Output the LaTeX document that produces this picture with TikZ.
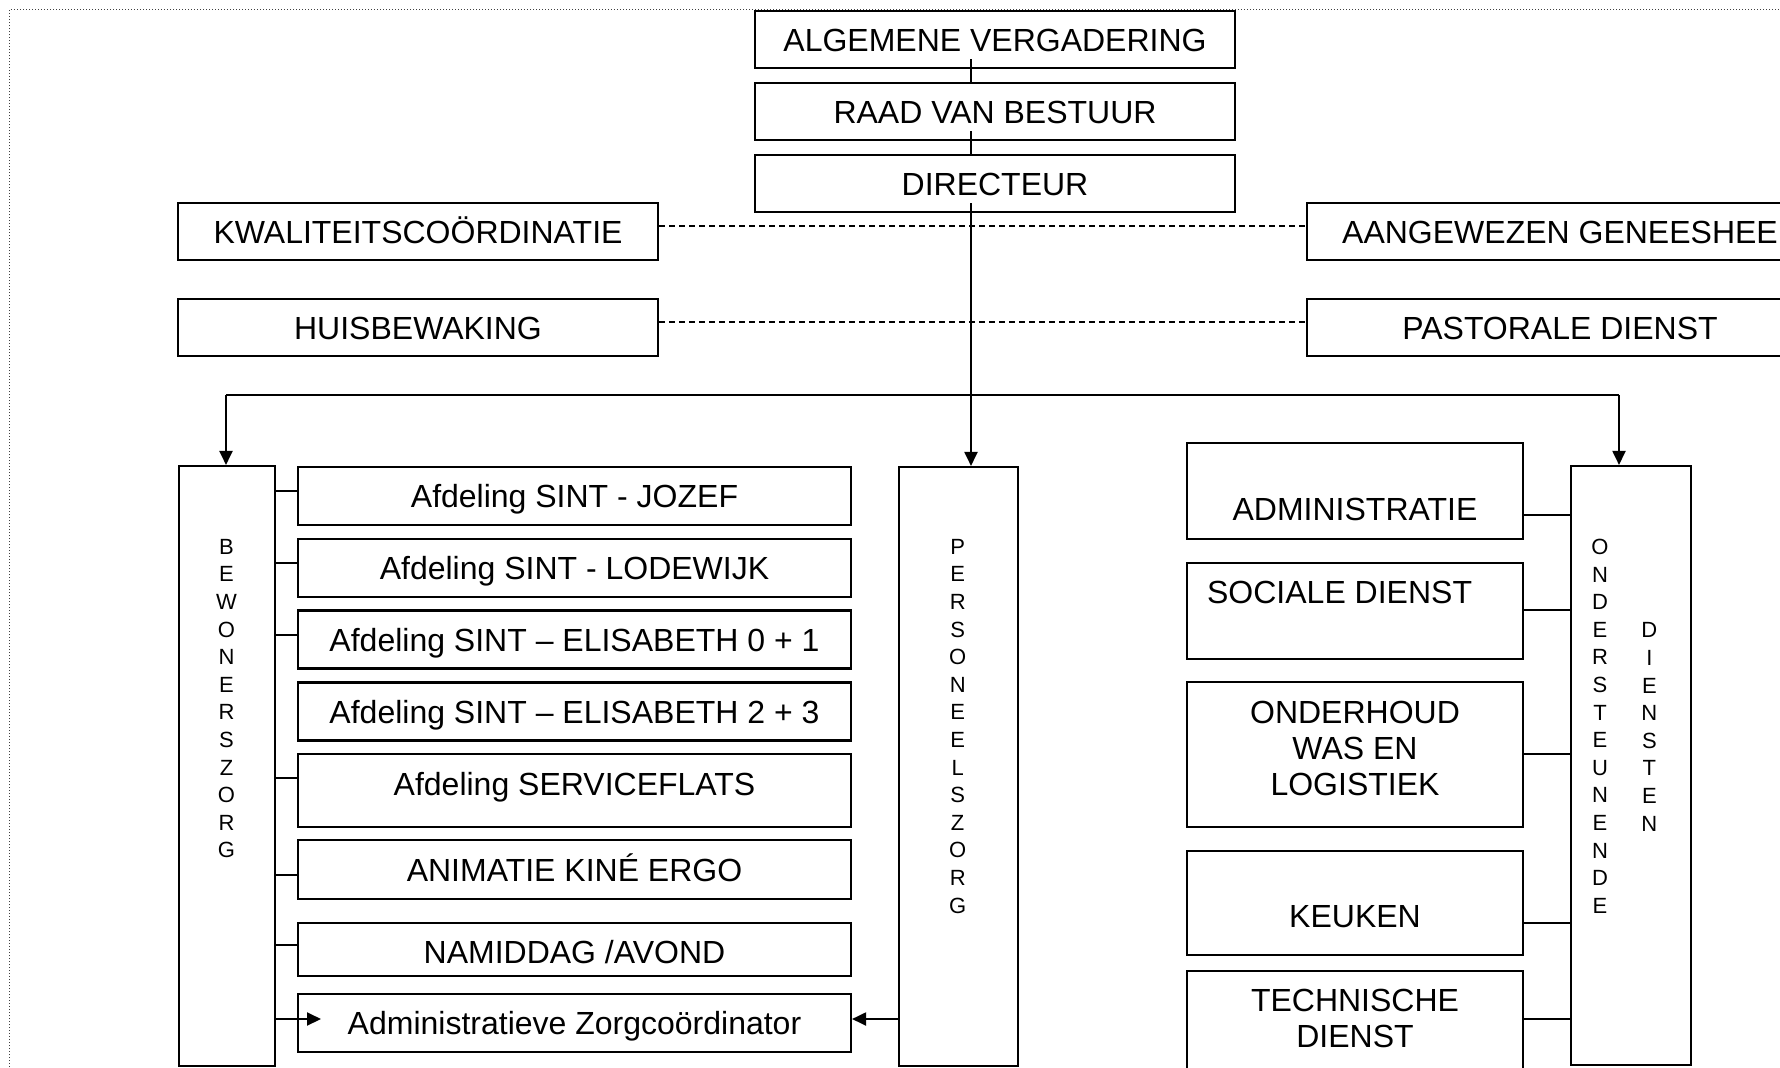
\documentclass[tikz,border=0pt]{standalone}
\usepackage{fontspec}
\setmainfont{Liberation Sans}
\usetikzlibrary{arrows.meta,calc}
\begin{document}
\begin{tikzpicture}[x=1pt,y=-1pt,
  box/.style={draw, line width=2.1pt, inner sep=0pt, font=\fontsize{32}{36}\selectfont, text height=23pt, text depth=0pt},
  ebox/.style={draw, line width=2.1pt, inner sep=0pt},
  txt/.style={inner sep=0pt, font=\fontsize{32}{36}\selectfont, align=center},
  stxt/.style={inner sep=0pt, font=\fontsize{32}{36}\selectfont, text height=23pt, text depth=0pt},
  vtxt/.style={inner sep=0pt, font=\fontsize{22}{27.6}\selectfont, align=center, anchor=north},
  conn/.style={line width=2pt},
  arr/.style={line width=2pt, -{Triangle[length=14pt,width=13pt]}},
  dsh/.style={line width=2pt, dash pattern=on 6pt off 4pt},
  framestyle/.style={line width=1pt, dash pattern=on 1pt off 2pt, black!75}
]
\useasboundingbox (0,0) rectangle (1780,1068);
\clip (0,0) rectangle (1780,1068);

% frame
\draw[framestyle] (9.5,1070) -- (9.5,9.5) -- (1785,9.5);

% top chain
\node[box, minimum width=480pt, minimum height=57pt] (av) at (995,39.5) {ALGEMENE VERGADERING};
\node[box, minimum width=480pt, minimum height=57pt] (rvb) at (995,111.5) {RAAD VAN BESTUUR};
\node[box, minimum width=480pt, minimum height=57pt] (dir) at (995,183.5) {DIRECTEUR};

% staff boxes
\node[box, minimum width=480pt, minimum height=57pt] (kw) at (418,231.5) {KWALITEITSCOÖRDINATIE};
\node[box, minimum width=480pt, minimum height=57pt] (hb) at (418,327.5) {HUISBEWAKING};
\node[box, minimum width=506pt, minimum height=57pt] (ag) at (1560,231.5) {AANGEWEZEN GENEESHEE};
\node[box, minimum width=506pt, minimum height=57pt] (pd) at (1560,327.5) {PASTORALE DIENST};

% three columns
\node[ebox, minimum width=96pt, minimum height=600pt] (bz) at (227,766) {};
\node[ebox, minimum width=119pt, minimum height=599pt] (pz) at (958.5,766.5) {};
\node[ebox, minimum width=120pt, minimum height=599pt] (od) at (1631,765.5) {};
\node[vtxt] (bzt) at (226.5,539) {B\\E\\W\\O\\N\\E\\R\\S\\Z\\O\\R\\G};
\node[vtxt] (pzt) at (957.7,539) {P\\E\\R\\S\\O\\N\\E\\E\\L\\S\\Z\\O\\R\\G};
\node[vtxt] (odt1) at (1600,539) {O\\N\\D\\E\\R\\S\\T\\E\\U\\N\\E\\N\\D\\E};
\node[vtxt] (odt2) at (1649.4,622.5) {D\\I\\E\\N\\S\\T\\E\\N};

% afdelingen
\node[box, minimum width=553pt, minimum height=58pt] (a1) at (574.5,495.6) {Afdeling SINT - JOZEF};
\node[box, minimum width=553pt, minimum height=58pt] (a2) at (574.5,567.8) {Afdeling SINT - LODEWIJK};
\node[box, minimum width=553pt, minimum height=58pt] (a3) at (574.5,639.5) {Afdeling SINT – ELISABETH 0 + 1};
\node[box, minimum width=553pt, minimum height=58pt] (a4) at (574.5,711.5) {Afdeling SINT – ELISABETH 2 + 3};
\node[ebox, minimum width=553pt, minimum height=72.4pt] (a5) at (574.5,790.5) {};
\node[stxt] (a5t) at (574.5,783.7) {Afdeling SERVICEFLATS};
\node[box, minimum width=553pt, minimum height=58.8pt] (a6) at (574.5,869.7) {ANIMATIE KINÉ ERGO};
\node[ebox, minimum width=553pt, minimum height=53.1pt] (a7) at (574.5,949.3) {};
\node[stxt] (a7t) at (574.5,952.3) {NAMIDDAG /AVOND};
\node[box, minimum width=553pt, minimum height=58pt] (a8) at (574.5,1023.2) {Administratieve Zorgcoördinator};

% ondersteunende diensten
\node[ebox, minimum width=336pt, minimum height=96pt] (r1) at (1355,490.7) {};
\node[stxt] (r1t) at (1355,509.4) {ADMINISTRATIE};
\node[ebox, minimum width=336pt, minimum height=95.6pt] (r2) at (1355,610.8) {};
\node[stxt] (r2t) at (1339.6,592) {SOCIALE DIENST};
\node[ebox, minimum width=336pt, minimum height=144.4pt] (r3) at (1355,754.5) {};
\node[txt] (r3t) at (1355,748) {ONDERHOUD\\WAS EN\\LOGISTIEK};
\node[ebox, minimum width=336pt, minimum height=104pt] (r4) at (1355,902.8) {};
\node[stxt] (r4t) at (1355,916) {KEUKEN};
\node[ebox, minimum width=336pt, minimum height=130pt] (r5) at (1355,1036) {};
\node[txt] (r5t) at (1355,1018) {TECHNISCHE\\DIENST};

% top connectors
\coordinate (spine) at (971,0);
\draw[conn] ($(av.south -| spine)+(0,-10)$) -- (rvb.north -| spine);
\draw[conn] ($(rvb.south -| spine)+(0,-10)$) -- (dir.north -| spine);
\draw[arr] ($(dir.south -| spine)+(0,-10)$) -- (pz.north -| spine);

% dashed staff lines
\coordinate (d1) at (0,226);
\coordinate (d2) at (0,322);
\draw[dsh] (kw.east |- d1) -- (ag.west |- d1);
\draw[dsh] (hb.east |- d2) -- (pd.west |- d2);

% distribution bar
\coordinate (barL) at (226,395);
\coordinate (barR) at (1619,395);
\draw[conn] (barL) -- (barR);
\draw[arr] (barL) -- (barL |- bz.north);
\draw[arr] (barR) -- (barR |- od.north);

% left stubs
\coordinate (s1) at (0,491);
\coordinate (s2) at (0,562.5);
\coordinate (s3) at (0,634.5);
\coordinate (s5) at (0,778.4);
\coordinate (s6) at (0,874.5);
\coordinate (s7) at (0,944.7);
\draw[conn] (bz.east |- s1) -- (a1.west |- s1);
\draw[conn] (bz.east |- s2) -- (a2.west |- s2);
\draw[conn] (bz.east |- s3) -- (a3.west |- s3);
\draw[conn] (bz.east |- s5) -- (a5.west |- s5);
\draw[conn] (bz.east |- s6) -- (a6.west |- s6);
\draw[conn] (bz.east |- s7) -- (a7.west |- s7);
\coordinate (azTip) at (321,1019);
\draw[arr] (bz.east |- azTip) -- (azTip);
\draw[arr] (pz.west |- azTip) -- (a8.east |- azTip);

% right stubs
\coordinate (t1) at (0,514.7);
\coordinate (t2) at (0,610.4);
\coordinate (t3) at (0,754.3);
\coordinate (t4) at (0,922.8);
\coordinate (t5) at (0,1019.3);
\draw[conn] (r1.east |- t1) -- (od.west |- t1);
\draw[conn] (r2.east |- t2) -- (od.west |- t2);
\draw[conn] (r3.east |- t3) -- (od.west |- t3);
\draw[conn] (r4.east |- t4) -- (od.west |- t4);
\draw[conn] (r5.east |- t5) -- (od.west |- t5);
\end{tikzpicture}
\end{document}
